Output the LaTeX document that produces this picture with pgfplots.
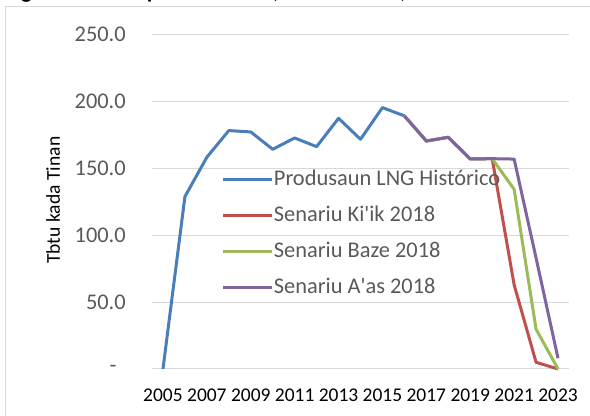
\documentclass[border=0pt]{standalone}
\usepackage{pgfplots}
\pgfplotsset{compat=1.18}
\usepackage{fontspec}
\setmainfont{Carlito}
\definecolor{cblue}{HTML}{4A7EBB}
\definecolor{cred}{HTML}{C0504D}
\definecolor{cgreen}{HTML}{9BBB59}
\definecolor{cpurple}{HTML}{8064A2}
\definecolor{cgrid}{HTML}{D9D9D9}
\definecolor{ctext}{HTML}{595959}
\newcommand{\zerodash}{\makebox[12pt][l]{-}}
\begin{document}
\begin{tikzpicture}
\useasboundingbox (-114pt,-35.25pt) rectangle (328.5pt,276.75pt);
\draw[cgrid, line width=0.75pt] (-109.5pt,-40pt) -- (-109.5pt,271.5pt) -- (340pt,271.5pt);
\node[anchor=base west, inner sep=0pt, font=\fontsize{17}{20}\selectfont\bfseries] at (-110.25pt,277.6pt) {Figura 13: Komparasaun Gas, Senariu Ki\textquotesingle ik, Baze no A\textquotesingle as};
\begin{axis}[
  at={(0,0)}, anchor=south west,
  scale only axis, width=312.75pt, height=250.7pt,
  xmin=2004.5, xmax=2023.5, ymin=0, ymax=250,
  clip=false,
  axis line style={draw=none},
  major tick length=0pt,
  xtick={2005,2007,...,2023},
  xticklabels={2005,2007,2009,2011,2013,2015,2017,2019,2021,2023},
  ytick={0,50,...,250},
  yticklabels={\zerodash,50.0,100.0,150.0,200.0,250.0},
  ymajorgrids,
  major grid style={cgrid, line width=0.75pt},
  xticklabel style={anchor=north, inner sep=0pt, yshift=-15pt, font=\fontsize{14.6}{16}\selectfont, text=black},
  yticklabel style={anchor=east, inner sep=0pt, xshift=-19.5pt, font=\fontsize{16.8}{18}\selectfont, text=ctext},
  ylabel={Tbtu kada Tinan},
  every axis y label/.style={at={(axis description cs:-0.2368,0.505)}, rotate=90, anchor=center, font=\fontsize{14.7}{16}\selectfont},
  legend cell align=left,
  legend image code/.code={\draw[#1] (0pt,0pt) -- (36.75pt,0pt);},
  legend style={at={(axis description cs:0.1655,0.404)}, anchor=west, draw=none, fill=none, inner sep=0pt,
    nodes={inner sep=0pt, text height=12pt, text depth=4pt}, column sep=0.5pt, row sep=11pt,
    font=\fontsize{16.8}{18}\selectfont, text=ctext},
  every axis plot/.append style={line width=2.25pt, line join=round},
]
\addplot[cblue] coordinates {(2005,0) (2006,128.9) (2007,158.4) (2008,178.3) (2009,177.3) (2010,164.3) (2011,172.8) (2012,166.3) (2013,187.5) (2014,171.8) (2015,195.5) (2016,189.3)};
\addlegendentry{Produsaun LNG Histórico}
\addplot[cred] coordinates {(2016,189.3) (2017,170.5) (2018,173.3) (2019,157.1) (2020,157.3) (2021,63) (2022,5) (2023,0)};
\addlegendentry{Senariu Ki\textquotesingle ik 2018}
\addplot[cgreen] coordinates {(2016,189.3) (2017,170.5) (2018,173.3) (2019,157.1) (2020,157.3) (2021,134.4) (2022,29.8) (2023,0)};
\addlegendentry{Senariu Baze 2018}
\addplot[cpurple] coordinates {(2016,189.3) (2017,170.5) (2018,173.3) (2019,157.1) (2020,157.3) (2021,157) (2022,83) (2023,8)};
\addlegendentry{Senariu A\textquotesingle as 2018}
\end{axis}
\end{tikzpicture}
\end{document}
